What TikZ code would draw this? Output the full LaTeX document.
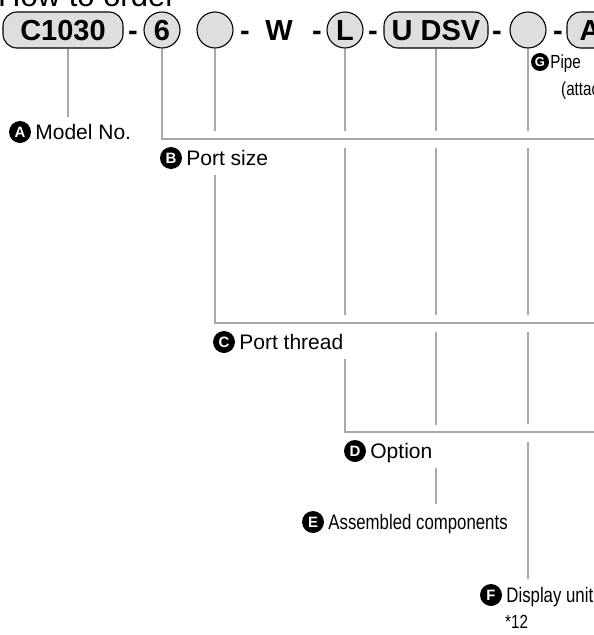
\documentclass[tikz,border=0pt]{standalone}
\usepackage{fontspec}
\setmainfont{Liberation Sans}
\newfontfamily\narrowsf[FakeStretch=0.8]{Liberation Sans}
\usetikzlibrary{positioning,calc}
\definecolor{leadgray}{HTML}{A8A8A8}
\definecolor{codefill}{HTML}{DEDEDE}
\tikzset{
  % --- code row
  code/.style    = {draw=black, line width=1.1pt, fill=codefill, inner sep=0pt,
                    text height=21pt, text depth=0pt,
                    font=\fontsize{29}{30}\selectfont\bfseries},
  codebox/.style = {code, rounded corners=14pt, minimum height=36pt},
  codecirc/.style= {code, circle, minimum size=36pt},
  sep/.style     = {inner sep=0pt, text height=21pt, text depth=0pt,
                    font=\fontsize{29}{30}\selectfont\bfseries},
  ttl/.style     = {anchor=base west, inner sep=0pt, font=\fontsize{31}{31}\selectfont},
  % --- labels
  badge/.style   = {circle, fill=black, text=white, inner sep=0pt, minimum size=22pt,
                    text height=10.5pt, text depth=0pt,
                    font=\fontsize{15}{15}\selectfont\bfseries},
  smallbadge/.style = {badge, minimum size=18pt, text height=9pt,
                    font=\fontsize{13}{13}\selectfont\bfseries},
  lbl/.style     = {anchor=west, inner sep=0pt, text height=15pt, text depth=0pt,
                    font=\fontsize{21}{24}\selectfont},
  nlbl/.style    = {lbl, font=\fontsize{21}{24}\selectfont\narrowsf},
  slbl/.style    = {lbl, text height=13pt, font=\fontsize{19}{22}\selectfont\narrowsf},
  % --- leads
  lead/.style    = {draw=leadgray, line width=2.2pt},
}
\begin{document}
\begin{tikzpicture}[x=1pt,y=-1pt]
  \useasboundingbox (0,0) rectangle (594,635);
  \clip (0,0) rectangle (594,635);

  \node[ttl] (title) at (-2,6) {How to order};

  % code row
  \node[codebox, minimum width=120pt] (model) at (63,30)  {C1030};
  \node[sep]                          (d1)    at (133,30) {-};
  \node[codecirc]                     (size)  at (162,30) {6};
  \node[codecirc]                     (thread) at (215,30) {};
  \node[sep]                          (d2)    at (245,30) {-};
  \node[sep]                          (w)     at (279,30) {W};
  \node[sep]                          (d3)    at (317,30) {-};
  \node[codecirc]                     (opt)   at (345,30) {L};
  \node[sep]                          (d4)    at (373,30) {-};
  \node[codebox, minimum width=104pt] (asm)   at (436,30) {U DSV};
  \node[sep]                          (d5)    at (497,30) {-};
  \node[codecirc]                     (disp)  at (528,30) {};
  \node[sep]                          (d6)    at (558,30) {-};
  \node[codebox, minimum width=46pt]  (pipe)  at (590,30) {A};

  % rails to the right edge
  \coordinate (railB) at (600,139);
  \coordinate (railC) at (600,323);
  \coordinate (railD) at (600,432);

  % labels
  \node[badge] (bA) at (20,132) {A};
  \node[lbl, right=4pt of bA] (lA) {Model No.};
  \node[badge] (bB) at (171,158) {B};
  \node[lbl, right=4pt of bB] (lB) {Port size};
  \node[badge] (bC) at (224,342) {C};
  \node[lbl, right=4pt of bC] (lC) {Port thread};
  \node[badge] (bD) at (355,451) {D};
  \node[lbl, right=4pt of bD] (lD) {Option};
  \node[badge] (bE) at (313,522) {E};
  \node[nlbl, right=4pt of bE] (lE) {Assembled components};
  \node[badge] (bF) at (491,595) {F};
  \node[nlbl, right=4pt of bF] (lF) {Display unit};
  \node[slbl] (nF) at (505,622) {*12};
  \node[smallbadge] (bG) at (540,62) {G};
  \node[slbl, right=1pt of bG] (lG) {Pipe};
  \node[slbl] (lG2) at (561,89) {(attachment)};

  % leads
  \draw[lead] ([xshift=5pt]model.south) -- ([xshift=5pt]model.south |- 0,117);
  \draw[lead] (size.south) |- (railB);
  \foreach \n in {thread,opt,asm,disp}
    \draw[lead] (\n.south) -- (\n.south |- 0,131);
  \draw[lead] (thread.south |- 0,175) |- (railC);
  \foreach \n in {opt,asm,disp}
    \draw[lead] (\n.south |- 0,148) -- (\n.south |- 0,315);
  \draw[lead] (opt.south |- 0,359) |- (railD);
  \draw[lead] (asm.south |- 0,332) -- (asm.south |- 0,425);
  \draw[lead] (disp.south |- 0,332) -- (disp.south |- 0,424);
  \draw[lead] (asm.south |- 0,468) -- (asm.south |- 0,504);
  \draw[lead] (disp.south |- 0,442) -- (disp.south |- 0,579);
\end{tikzpicture}
\end{document}
